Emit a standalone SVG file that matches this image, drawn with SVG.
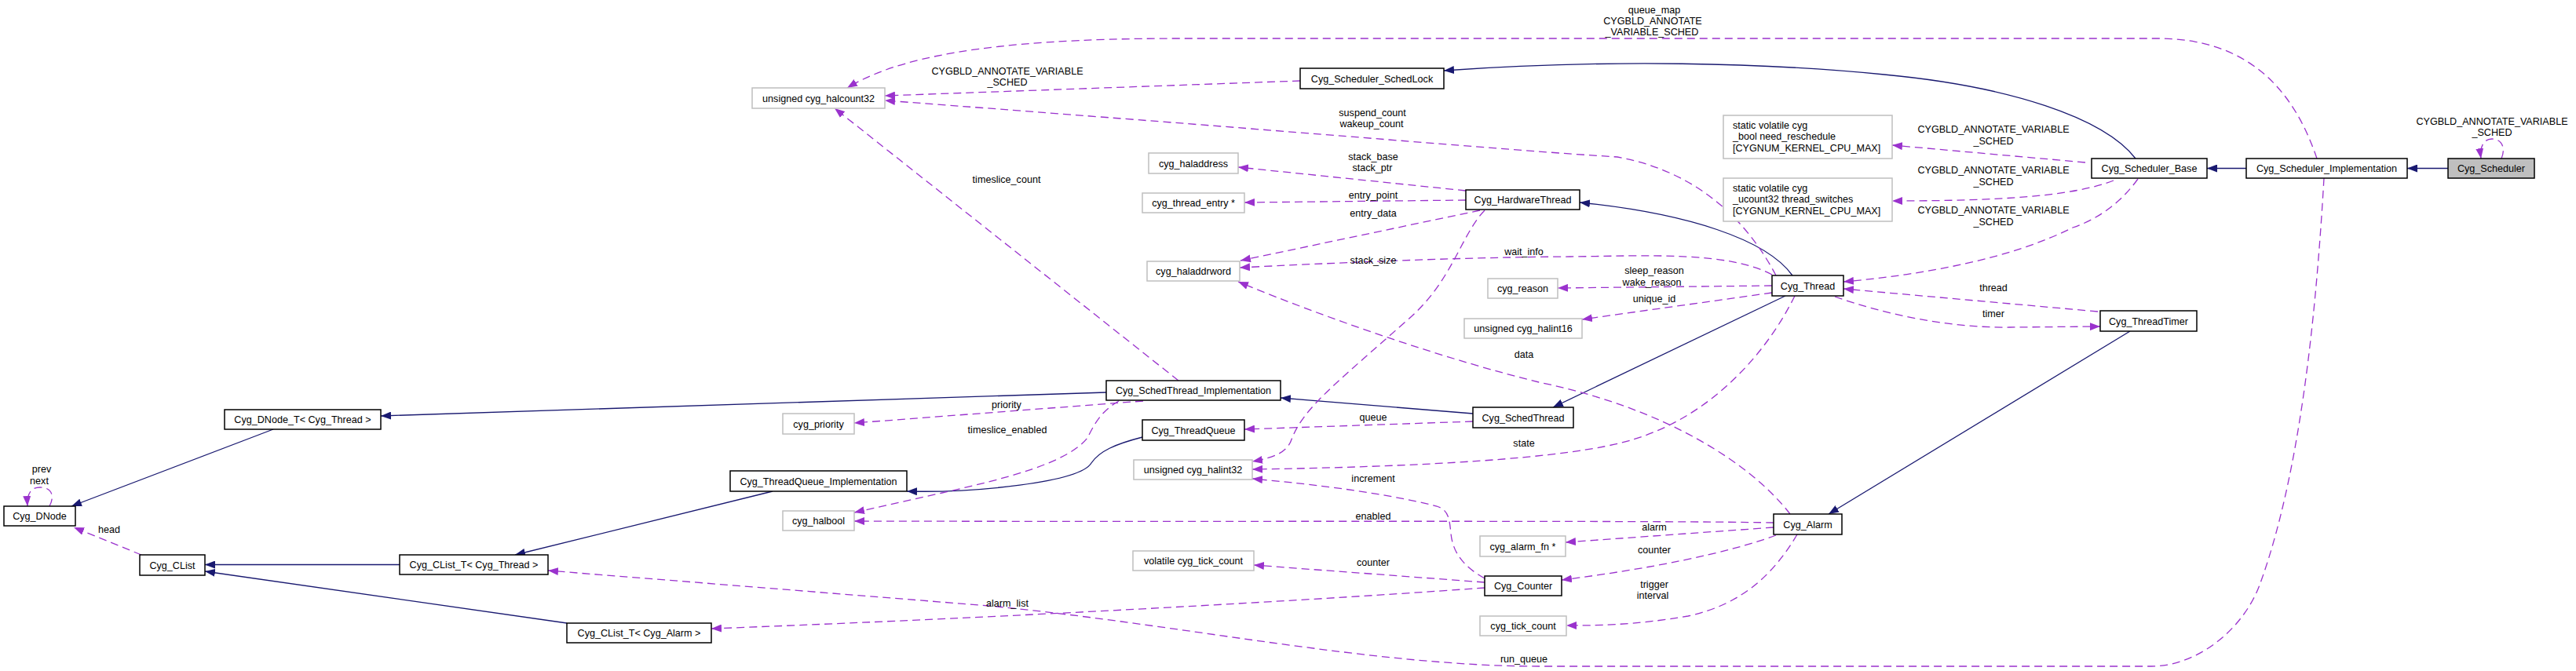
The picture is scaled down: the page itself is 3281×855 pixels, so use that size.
<svg xmlns="http://www.w3.org/2000/svg" width="3281" height="855" viewBox="0 0 3281 855">
<style>
text{font-family:"Liberation Sans",Arial,sans-serif;font-size:12.6px;fill:#000}
.m{text-anchor:middle}
.n rect{fill:#fff;stroke:#000;stroke-width:1.5}
.n.root rect{fill:#bfbfbf}
.t rect{fill:#fff;stroke:#bfbfbf;stroke-width:1.5}
.inh{fill:none;stroke:#191970;stroke-width:1.3;marker-end:url(#ah)}
.use{fill:none;stroke:#9a32cd;stroke-width:1.3;stroke-dasharray:10,6;marker-end:url(#ap)}
</style>
<defs>
<marker id="ah" markerUnits="userSpaceOnUse" markerWidth="13" markerHeight="10" refX="13" refY="5" orient="auto"><path d="M0,0 L13,5 L0,10 Z" fill="#191970"/></marker>
<marker id="ap" markerUnits="userSpaceOnUse" markerWidth="13" markerHeight="10" refX="13" refY="5" orient="auto"><path d="M0,0 L13,5 L0,10 Z" fill="#9a32cd"/></marker>
</defs>
<rect width="3281" height="855" fill="#fff"/>
<g id="connectors">
<path class="inh" d="M3118,214.5 L3066,214.5"/>
<path class="inh" d="M2861,214.5 L2811,214.5"/>
<path class="inh" d="M2720,202 C2680,150 2560,110 2400,95 C2250,80 2050,75 1839,90"/>
<path class="inh" d="M2283,351 C2250,305 2150,272 2012,258"/>
<path class="inh" d="M2274,377 L1978,519"/>
<path class="inh" d="M1876,527 L1631,507"/>
<path class="inh" d="M1409,500 L485,530"/>
<path class="inh" d="M348,547 L91,645"/>
<path class="inh" d="M1455,557 C1420,566 1400,575 1390,590 C1375,615 1240,628 1155,626"/>
<path class="inh" d="M984,626 L656,707"/>
<path class="inh" d="M509,719.5 L261,719.5"/>
<path class="inh" d="M722,794 L261,728"/>
<path class="inh" d="M2713,422 L2329,655"/>
<path class="use" d="M2951,202 C2920,110 2860,49 2748,49 L1500,49 C1250,49 1140,75 1079,112"/>
<path class="use" d="M1656,103 L1127,122"/>
<path class="use" d="M2262,351 C2230,290 2170,220 2060,200 C1900,190 1750,175 1127,128"/>
<path class="use" d="M1867,243 L1577,213"/>
<path class="use" d="M1867,255 L1585,258"/>
<path class="use" d="M1885,268 L1580,332"/>
<path class="use" d="M1891,268 C1860,300 1850,360 1790,410 C1700,490 1660,520 1645,560 C1640,575 1625,583 1595,588"/>
<path class="use" d="M2257,350 C2200,320 2100,326 2000,327 C1850,328 1700,335 1579,341"/>
<path class="use" d="M2257,364 L1984,367"/>
<path class="use" d="M2257,373 L2015,407"/>
<path class="use" d="M2286,377 C2250,450 2180,530 2080,560 C2000,585 1800,595 1595,598"/>
<path class="use" d="M2656,207 L2410,185"/>
<path class="use" d="M2692,230 C2640,250 2550,256 2410,256"/>
<path class="use" d="M2723,228 C2700,260 2670,280 2640,290 C2560,330 2450,350 2348,359"/>
<path class="use" d="M2672,397 L2348,368"/>
<path class="use" d="M2337,378 C2400,400 2480,418 2560,417 L2675,416"/>
<path class="use" d="M1501,485 L1063,138"/>
<path class="use" d="M1456,511 L1088,539"/>
<path class="use" d="M1425,511 C1400,525 1392,545 1385,558 C1360,590 1280,610 1200,628 L1088,653"/>
<path class="use" d="M1876,537 L1585,547"/>
<path class="use" d="M1891,737 C1860,720 1850,700 1848,680 C1846,660 1845,650 1830,645 C1750,625 1650,615 1595,610"/>
<path class="use" d="M2259,666 C2100,663 1500,665 1088,664"/>
<path class="use" d="M2259,672 L1994,691"/>
<path class="use" d="M2262,682 C2200,705 2100,725 1989,739"/>
<path class="use" d="M2289,681 C2260,730 2220,770 2150,785 C2080,797 2030,797 1995,797"/>
<path class="use" d="M2280,655 C2230,590 2120,520 1960,487 C1850,460 1700,410 1577,359"/>
<path class="use" d="M1891,742 L1597,720"/>
<path class="use" d="M1891,749 C1600,770 1200,790 906,801"/>
<path class="use" d="M2960,227 C2950,400 2930,600 2880,740 C2860,800 2800,849 2740,849 L1960,849 C1750,849 1500,795 1260,772 L698,727"/>
<path class="use" d="M63,645 C70,632 66,621 51,621 C40,621 34,628 35,645"/>
<path class="use" d="M180,707 L94,672"/>
<path class="use" d="M3186,202 C3192,188 3186,177 3174,177 C3163,177 3158,188 3160,202"/>
</g>
<g id="edge-labels">
<text class="m" x="2107" y="16.5">queue_map</text>
<text class="m" x="2105" y="30.5">CYGBLD_ANNOTATE</text>
<text class="m" x="2104" y="44.5">_VARIABLE_SCHED</text>
<text class="m" x="1283" y="94.5">CYGBLD_ANNOTATE_VARIABLE</text>
<text class="m" x="1283" y="108.5">_SCHED</text>
<text class="m" x="1748" y="147.5">suspend_count</text>
<text class="m" x="1747" y="161.5">wakeup_count</text>
<text class="m" x="1749" y="203.5">stack_base</text>
<text class="m" x="1748" y="217.5">stack_ptr</text>
<text class="m" x="1749" y="252.5">entry_point</text>
<text class="m" x="1749" y="275.5">entry_data</text>
<text class="m" x="1941" y="324.5">wait_info</text>
<text class="m" x="1749" y="335.5">stack_size</text>
<text class="m" x="2107" y="348.5">sleep_reason</text>
<text class="m" x="2104" y="363.5">wake_reason</text>
<text class="m" x="2107" y="384.5">unique_id</text>
<text class="m" x="1941" y="455.5">data</text>
<text class="m" x="1282" y="232.5">timeslice_count</text>
<text class="m" x="1282" y="519.5">priority</text>
<text class="m" x="1283" y="551.5">timeslice_enabled</text>
<text class="m" x="1749" y="535.5">queue</text>
<text class="m" x="1941" y="568.5">state</text>
<text class="m" x="1749" y="613.5">increment</text>
<text class="m" x="1749" y="661.5">enabled</text>
<text class="m" x="2107" y="675.5">alarm</text>
<text class="m" x="2107" y="704.5">counter</text>
<text class="m" x="1749" y="720.5">counter</text>
<text class="m" x="2107" y="748.5">trigger</text>
<text class="m" x="2105" y="762.5">interval</text>
<text class="m" x="1283" y="772.5">alarm_list</text>
<text class="m" x="1941" y="843.5">run_queue</text>
<text class="m" x="2539" y="168.5">CYGBLD_ANNOTATE_VARIABLE</text>
<text class="m" x="2539" y="183.5">_SCHED</text>
<text class="m" x="2539" y="220.5">CYGBLD_ANNOTATE_VARIABLE</text>
<text class="m" x="2539" y="235.5">_SCHED</text>
<text class="m" x="2539" y="271.5">CYGBLD_ANNOTATE_VARIABLE</text>
<text class="m" x="2539" y="286.5">_SCHED</text>
<text class="m" x="2539" y="370.5">thread</text>
<text class="m" x="2539" y="403.5">timer</text>
<text class="m" x="3174" y="158.5">CYGBLD_ANNOTATE_VARIABLE</text>
<text class="m" x="3174" y="172.5">_SCHED</text>
<text class="m" x="53" y="601.5">prev</text>
<text class="m" x="50" y="616.5">next</text>
<text class="m" x="139" y="678.5">head</text>
</g>
<g id="n-Cyg_Scheduler" class="n root"><rect x="3118" y="202" width="110" height="25"/><text class="m" x="3173" y="219">Cyg_Scheduler</text></g>
<g id="n-Cyg_Scheduler_Implementation" class="n"><rect x="2861" y="202" width="205" height="25"/><text class="m" x="2963.5" y="219">Cyg_Scheduler_Implementation</text></g>
<g id="n-Cyg_Scheduler_Base" class="n"><rect x="2664" y="202" width="147" height="25"/><text class="m" x="2737.5" y="219">Cyg_Scheduler_Base</text></g>
<g id="n-Cyg_Scheduler_SchedLock" class="n"><rect x="1656" y="87" width="183" height="26"/><text class="m" x="1747.5" y="104.5">Cyg_Scheduler_SchedLock</text></g>
<g id="n-Cyg_HardwareThread" class="n"><rect x="1867" y="242" width="145" height="25"/><text class="m" x="1939.5" y="259">Cyg_HardwareThread</text></g>
<g id="n-Cyg_Thread" class="n"><rect x="2257" y="351" width="91" height="26"/><text class="m" x="2302.5" y="368.5">Cyg_Thread</text></g>
<g id="n-Cyg_ThreadTimer" class="n"><rect x="2675" y="396" width="123" height="26"/><text class="m" x="2736.5" y="413.5">Cyg_ThreadTimer</text></g>
<g id="n-Cyg_SchedThread_Implementation" class="n"><rect x="1409" y="485" width="222" height="25"/><text class="m" x="1520" y="502">Cyg_SchedThread_Implementation</text></g>
<g id="n-Cyg_SchedThread" class="n"><rect x="1876" y="519" width="128" height="26"/><text class="m" x="1940" y="536.5">Cyg_SchedThread</text></g>
<g id="n-Cyg_ThreadQueue" class="n"><rect x="1455" y="535" width="130" height="26"/><text class="m" x="1520" y="552.5">Cyg_ThreadQueue</text></g>
<g id="n-Cyg_ThreadQueue_Implementation" class="n"><rect x="930" y="600" width="225" height="26"/><text class="m" x="1042.5" y="617.5">Cyg_ThreadQueue_Implementation</text></g>
<g id="n-Cyg_DNode_T_Thread" class="n"><rect x="286" y="522" width="199" height="25"/><text class="m" x="385.5" y="539">Cyg_DNode_T&lt; Cyg_Thread &gt;</text></g>
<g id="n-Cyg_DNode" class="n"><rect x="5" y="645" width="91" height="25"/><text class="m" x="50.5" y="662">Cyg_DNode</text></g>
<g id="n-Cyg_CList" class="n"><rect x="178" y="707" width="83" height="26"/><text class="m" x="219.5" y="724.5">Cyg_CList</text></g>
<g id="n-Cyg_CList_T_Thread" class="n"><rect x="509" y="707" width="189" height="25"/><text class="m" x="603.5" y="724">Cyg_CList_T&lt; Cyg_Thread &gt;</text></g>
<g id="n-Cyg_CList_T_Alarm" class="n"><rect x="722" y="794" width="184" height="25"/><text class="m" x="814" y="811">Cyg_CList_T&lt; Cyg_Alarm &gt;</text></g>
<g id="n-Cyg_Alarm" class="n"><rect x="2259" y="655" width="87" height="26"/><text class="m" x="2302.5" y="672.5">Cyg_Alarm</text></g>
<g id="n-Cyg_Counter" class="n"><rect x="1891" y="734" width="98" height="25"/><text class="m" x="1940" y="751">Cyg_Counter</text></g>
<g id="n-halcount32" class="t"><rect x="958" y="112" width="169" height="26"/><text class="m" x="1042.5" y="129.5">unsigned cyg_halcount32</text></g>
<g id="n-need_reschedule" class="t"><rect x="2195" y="147" width="215" height="55"/><text x="2207" y="163.5">static volatile cyg</text><text x="2207" y="178.2">_bool need_reschedule</text><text x="2207" y="192.8">[CYGNUM_KERNEL_CPU_MAX]</text></g>
<g id="n-thread_switches" class="t"><rect x="2195" y="227" width="215" height="55"/><text x="2207" y="243.5">static volatile cyg</text><text x="2207" y="258.2">_ucount32 thread_switches</text><text x="2207" y="272.8">[CYGNUM_KERNEL_CPU_MAX]</text></g>
<g id="n-cyg_haladdress" class="t"><rect x="1463" y="195" width="114" height="26"/><text class="m" x="1520" y="212.5">cyg_haladdress</text></g>
<g id="n-cyg_thread_entry" class="t"><rect x="1455" y="246" width="130" height="25"/><text class="m" x="1520" y="263">cyg_thread_entry *</text></g>
<g id="n-cyg_haladdrword" class="t"><rect x="1461" y="333" width="118" height="25"/><text class="m" x="1520" y="350">cyg_haladdrword</text></g>
<g id="n-cyg_reason" class="t"><rect x="1895" y="355" width="89" height="25"/><text class="m" x="1939.5" y="372">cyg_reason</text></g>
<g id="n-halint16" class="t"><rect x="1865" y="406" width="150" height="25"/><text class="m" x="1940" y="423">unsigned cyg_halint16</text></g>
<g id="n-cyg_priority" class="t"><rect x="997" y="527" width="91" height="26"/><text class="m" x="1042.5" y="544.5">cyg_priority</text></g>
<g id="n-cyg_halbool" class="t"><rect x="997" y="651" width="91" height="25"/><text class="m" x="1042.5" y="668">cyg_halbool</text></g>
<g id="n-halint32" class="t"><rect x="1444" y="586" width="151" height="25"/><text class="m" x="1519.5" y="603">unsigned cyg_halint32</text></g>
<g id="n-volatile_tick_count" class="t"><rect x="1443" y="702" width="154" height="25"/><text class="m" x="1520" y="719">volatile cyg_tick_count</text></g>
<g id="n-cyg_alarm_fn" class="t"><rect x="1885" y="683" width="109" height="26"/><text class="m" x="1939.5" y="700.5">cyg_alarm_fn *</text></g>
<g id="n-cyg_tick_count" class="t"><rect x="1885" y="785" width="110" height="25"/><text class="m" x="1940" y="802">cyg_tick_count</text></g>
</svg>
